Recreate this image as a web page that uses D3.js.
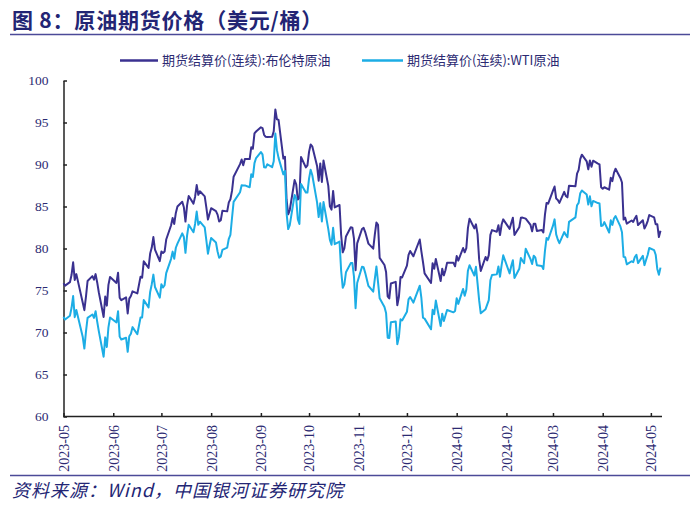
<!DOCTYPE html>
<html><head><meta charset="utf-8">
<script src="https://cdn.jsdelivr.net/npm/d3@7"></script>
<style>body{margin:0;background:#fff}svg{display:block}</style>
</head><body>
<svg id="c" width="700" height="508"></svg>
<script>
const dates = [
"2023-05-18","2023-05-19","2023-05-22","2023-05-23","2023-05-24","2023-05-25","2023-05-26","2023-05-30","2023-05-31",
"2023-06-01","2023-06-02","2023-06-05","2023-06-06","2023-06-07","2023-06-08","2023-06-09","2023-06-12","2023-06-13","2023-06-14","2023-06-15","2023-06-16","2023-06-20","2023-06-21","2023-06-22","2023-06-23","2023-06-26","2023-06-27","2023-06-28","2023-06-29","2023-06-30",
"2023-07-03","2023-07-05","2023-07-06","2023-07-07","2023-07-10","2023-07-11","2023-07-12","2023-07-13","2023-07-14","2023-07-17","2023-07-18","2023-07-19","2023-07-20","2023-07-21","2023-07-24","2023-07-25","2023-07-26","2023-07-27","2023-07-28","2023-07-31",
"2023-08-01","2023-08-02","2023-08-03","2023-08-04","2023-08-07","2023-08-08","2023-08-09","2023-08-10","2023-08-11","2023-08-14","2023-08-15","2023-08-16","2023-08-17","2023-08-18","2023-08-21","2023-08-22","2023-08-23","2023-08-24","2023-08-25","2023-08-28","2023-08-29","2023-08-30","2023-08-31",
"2023-09-01","2023-09-05","2023-09-06","2023-09-07","2023-09-08","2023-09-11","2023-09-12","2023-09-13","2023-09-14","2023-09-15","2023-09-18","2023-09-19","2023-09-20","2023-09-21","2023-09-22","2023-09-25","2023-09-26","2023-09-27","2023-09-28","2023-09-29",
"2023-10-02","2023-10-03","2023-10-04","2023-10-05","2023-10-06","2023-10-09","2023-10-10","2023-10-11","2023-10-12","2023-10-13","2023-10-16","2023-10-17","2023-10-18","2023-10-19","2023-10-20","2023-10-23","2023-10-24","2023-10-25","2023-10-26","2023-10-27","2023-10-30","2023-10-31",
"2023-11-01","2023-11-02","2023-11-03","2023-11-06","2023-11-07","2023-11-08","2023-11-09","2023-11-10","2023-11-13","2023-11-14","2023-11-15","2023-11-16","2023-11-17","2023-11-20","2023-11-21","2023-11-22","2023-11-24","2023-11-27","2023-11-28","2023-11-29","2023-11-30",
"2023-12-01","2023-12-04","2023-12-05","2023-12-06","2023-12-07","2023-12-08","2023-12-11","2023-12-12","2023-12-13","2023-12-14","2023-12-15","2023-12-18","2023-12-19","2023-12-20","2023-12-21","2023-12-22","2023-12-26","2023-12-27","2023-12-28","2023-12-29",
"2024-01-02","2024-01-03","2024-01-04","2024-01-05","2024-01-08","2024-01-09","2024-01-10","2024-01-11","2024-01-12","2024-01-16","2024-01-17","2024-01-18","2024-01-19","2024-01-22","2024-01-23","2024-01-24","2024-01-25","2024-01-26","2024-01-29","2024-01-30","2024-01-31",
"2024-02-01","2024-02-02","2024-02-05","2024-02-06","2024-02-07","2024-02-08","2024-02-09","2024-02-12","2024-02-13","2024-02-14","2024-02-15","2024-02-16","2024-02-20","2024-02-21","2024-02-22","2024-02-23","2024-02-26","2024-02-27","2024-02-28","2024-02-29",
"2024-03-01","2024-03-04","2024-03-05","2024-03-06","2024-03-07","2024-03-08","2024-03-11","2024-03-12","2024-03-13","2024-03-14","2024-03-15","2024-03-18","2024-03-19","2024-03-20","2024-03-21","2024-03-22","2024-03-25","2024-03-26","2024-03-27","2024-03-28",
"2024-04-01","2024-04-02","2024-04-03","2024-04-04","2024-04-05","2024-04-08","2024-04-09","2024-04-10","2024-04-11","2024-04-12","2024-04-15","2024-04-16","2024-04-17","2024-04-18","2024-04-19","2024-04-22","2024-04-23","2024-04-24","2024-04-25","2024-04-26","2024-04-29","2024-04-30",
"2024-05-01","2024-05-02","2024-05-03","2024-05-06","2024-05-07","2024-05-08","2024-05-09","2024-05-10","2024-05-13","2024-05-14","2024-05-15","2024-05-16","2024-05-17","2024-05-20","2024-05-21","2024-05-22","2024-05-23","2024-05-24"
];
const brent = [
75.86,75.58,75.99,76.84,78.36,76.26,76.95,73.54,72.66,
74.28,76.13,76.71,76.29,76.95,75.96,74.79,71.84,74.29,73.20,75.67,76.61,75.90,77.12,74.14,73.85,74.18,72.26,74.03,74.34,74.90,
74.65,76.65,76.52,78.47,77.69,79.40,80.11,81.36,79.87,78.50,79.63,79.46,79.64,81.07,82.74,83.64,82.92,84.24,84.99,85.56,
84.91,83.20,85.14,86.24,85.34,86.17,87.55,86.40,86.81,86.21,84.89,83.45,84.12,84.80,84.46,84.03,83.21,83.36,84.48,84.42,85.49,85.86,86.86,
88.55,90.04,90.60,89.92,90.65,90.64,92.06,91.88,93.70,93.93,94.43,94.34,93.53,93.30,93.27,93.29,93.96,96.55,95.38,95.31,
90.71,90.92,85.81,84.07,84.58,88.15,87.65,85.82,86.00,90.89,89.65,89.90,91.50,92.38,92.16,89.83,88.07,90.13,87.93,90.48,87.45,85.02,
84.63,86.85,84.89,85.18,81.61,79.54,80.01,81.43,82.52,82.47,81.18,77.42,80.61,82.32,82.45,81.96,80.58,79.98,81.68,83.10,82.83,
78.88,78.03,77.20,74.30,74.05,75.84,76.03,73.24,74.26,76.61,76.55,77.95,79.23,79.70,79.39,79.07,81.07,79.65,78.39,77.04,
75.89,78.25,77.59,78.76,76.12,77.59,76.80,77.41,78.29,78.29,77.88,79.10,78.56,80.06,79.55,80.04,82.43,83.55,82.40,82.87,81.71,
78.70,77.33,78.99,78.59,79.21,81.63,82.19,82.00,82.77,81.60,82.86,83.47,82.34,83.03,83.67,81.62,82.53,83.65,83.68,83.62,
83.55,82.80,82.04,82.96,82.96,82.08,82.21,81.92,84.03,85.42,85.34,86.89,87.38,85.95,85.78,85.43,86.75,86.25,86.09,87.48,
87.42,88.92,89.35,90.65,91.17,90.38,89.42,90.48,89.74,90.45,90.10,90.02,87.29,87.11,87.29,87.00,88.42,88.02,89.01,89.50,88.40,87.86,
83.44,83.67,82.96,83.33,83.16,83.58,83.88,82.79,83.36,82.38,82.75,83.27,83.98,83.71,82.88,82.90,81.36,82.12
];
const wti = [
71.86,71.55,71.99,72.91,74.34,71.83,72.67,69.46,68.09,
70.10,71.74,72.15,71.74,72.53,71.29,70.17,67.12,69.42,68.27,70.62,71.78,71.19,72.53,69.51,69.16,69.37,67.70,69.56,69.86,70.64,
69.79,71.79,71.80,73.86,72.99,74.83,75.75,76.89,75.42,74.15,75.75,75.35,75.63,77.07,78.74,79.63,78.78,80.09,80.58,81.80,
81.37,79.49,81.55,82.82,81.94,82.92,84.40,82.82,83.19,82.51,80.99,79.38,80.39,81.25,80.72,79.64,78.89,79.05,79.83,80.10,81.16,81.63,83.63,
85.55,86.69,87.54,87.51,87.51,87.29,88.84,88.52,90.16,90.77,91.48,91.20,89.66,89.63,90.03,89.68,90.39,93.68,91.71,90.79,
88.82,89.23,84.22,82.31,82.79,86.38,85.97,83.49,82.91,87.69,86.66,86.66,88.32,89.37,88.75,85.49,83.74,85.39,83.21,85.54,82.31,81.02,
80.44,82.46,80.51,80.82,77.37,75.33,75.74,77.17,78.26,78.26,76.66,72.90,75.89,77.83,77.77,77.10,75.54,74.86,76.41,77.86,75.96,
74.07,73.04,72.32,69.38,69.34,71.23,71.32,68.61,69.47,71.58,71.43,72.47,73.94,74.22,73.89,73.56,75.57,74.11,71.77,71.65,
70.38,72.70,72.19,73.81,70.77,72.24,71.37,72.02,72.68,72.40,72.56,74.08,73.41,75.19,74.37,75.09,77.36,78.01,76.78,77.82,75.85,
73.82,72.28,72.78,73.31,73.86,76.22,76.84,76.92,77.87,76.64,78.03,79.19,77.04,77.91,78.61,76.49,77.58,78.87,78.54,78.26,
79.97,78.74,78.15,79.13,78.93,78.01,77.93,77.56,79.72,81.26,81.04,82.72,83.47,81.68,81.07,80.63,81.95,81.62,81.35,83.17,
83.71,85.15,85.43,86.59,86.91,86.43,85.23,86.21,85.02,85.66,85.41,85.36,82.69,82.73,83.14,81.90,83.36,82.81,83.57,83.85,82.63,81.93,
79.00,78.95,78.11,78.48,78.38,78.99,79.26,78.26,79.12,78.02,78.63,79.23,80.06,79.80,79.26,77.57,76.87,77.72
];
const yTicks = [60,65,70,75,80,85,90,95,100];
const xTickLabels = ["2023-05","2023-06","2023-07","2023-08","2023-09","2023-10","2023-11","2023-12","2024-01","2024-02","2024-03","2024-04","2024-05"];
const seriesNames = ["期货结算价(连续):布伦特原油","期货结算价(连续):WTI原油"];
const titleText = "图 8：原油期货价格（美元/桶）";
const sourceText = "资料来源：Wind，中国银河证券研究院";

const navy = "#2c2a72";
const colors = ["#3a3190","#1cade5"];
const parse = d3.timeParse("%Y-%m-%d");
const D = dates.map(parse);

const svg = d3.select("#c");
const x = d3.scaleTime().domain([new Date(2023,4,18), new Date(2024,4,24)]).range([63.5, 660.5]);
const y = d3.scaleLinear().domain([60,100]).range([416.5, 80.5]);

// title
svg.append("text").attr("x",12).attr("y",27.5).text(titleText)
  .attr("font-family","'Noto Sans CJK SC', sans-serif").attr("font-weight","bold")
  .attr("font-size",21).attr("letter-spacing",0.8).attr("fill","#232574");
svg.append("line").attr("x1",10).attr("x2",690).attr("y1",34.5).attr("y2",34.5)
  .attr("stroke","#4b4a98").attr("stroke-width",1.5);

// legend
const legX = [[120,158,162],[362,403,407]];
seriesNames.forEach((n,i)=>{
  svg.append("line").attr("x1",legX[i][0]).attr("x2",legX[i][1]).attr("y1",60.5).attr("y2",60.5)
    .attr("stroke",colors[i]).attr("stroke-width",2.5);
  svg.append("text").attr("x",legX[i][2]).attr("y",65).text(n)
    .attr("font-family","'Noto Sans CJK SC', sans-serif").attr("font-size",13).attr("fill",navy);
});

// axes
const yAxis = d3.axisLeft(y).tickValues(yTicks).tickSizeInner(-3.5).tickSizeOuter(0).tickPadding(15);
const gy = svg.append("g").attr("transform","translate(63.5,0)").call(yAxis);
gy.selectAll("text").attr("font-family","'Liberation Serif', serif").attr("font-size",13.5).attr("fill",navy);
gy.selectAll("line,path").attr("stroke","#222").attr("stroke-width",1.5);

const xTicks = xTickLabels.map((_,i)=>d3.timeMonth.offset(new Date(2023,4,18), i));
const xAxis = d3.axisBottom(x).tickValues(xTicks).tickFormat((d,i)=>xTickLabels[i]).tickSizeInner(-3.5).tickSizeOuter(0);
const gx = svg.append("g").attr("transform","translate(0,416.5)").call(xAxis);
gx.select(".domain").attr("d","M63.5,0H662");
gx.selectAll("line,path").attr("stroke","#222").attr("stroke-width",1.5);
gx.selectAll("text").attr("transform","rotate(-90)").attr("x",-8.5).attr("y",0).attr("dy","0.35em")
  .attr("text-anchor","end").attr("font-family","'Liberation Serif', serif").attr("font-size",14).attr("fill",navy);

// lines
const line = d3.line().x((d,i)=>x(D[i])).y(d=>y(d));
[brent, wti].forEach((s,i)=>{
  svg.append("path").datum(s).attr("d",line).attr("fill","none")
    .attr("stroke",colors[i]).attr("stroke-width",2).attr("stroke-linejoin","round");
});

// footer
svg.append("line").attr("x1",10).attr("x2",690).attr("y1",475.5).attr("y2",475.5)
  .attr("stroke","#4b4a98").attr("stroke-width",1.5);
svg.append("text").attr("x",12).attr("y",497).text(sourceText)
  .attr("font-family","'Noto Sans CJK SC', sans-serif").attr("font-style","italic")
  .attr("font-size",18).attr("letter-spacing",1).attr("fill","#232574");
</script>
</body></html>
